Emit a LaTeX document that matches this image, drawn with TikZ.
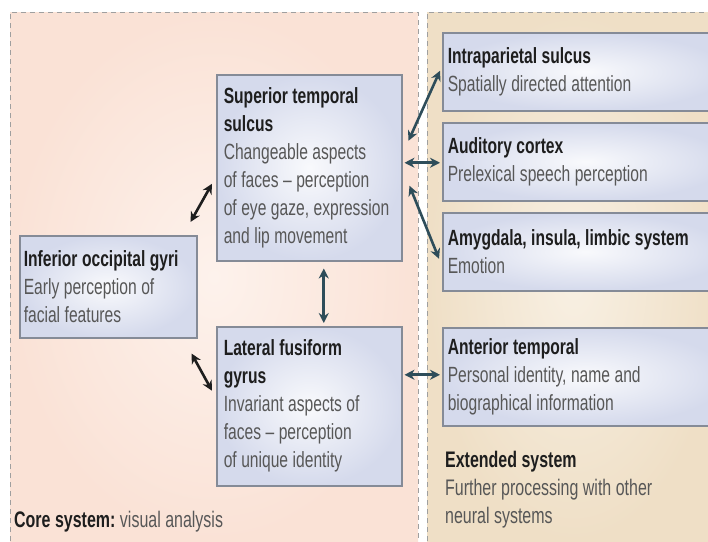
\documentclass[tikz,border=0pt]{standalone}
\usepackage{fontspec}
\setmainfont{Liberation Sans}[FakeStretch=0.71, WordSpace=0.75]
\usetikzlibrary{arrows.meta}
\hyphenpenalty=10000
\exhyphenpenalty=10000

\definecolor{corefill}{HTML}{FAE2D6}
\definecolor{corelight}{HTML}{FDF2EC}
\definecolor{extfill}{HTML}{EFDFC6}
\definecolor{extlight}{HTML}{F8F0E3}
\definecolor{boxfill}{HTML}{D5DAEC}
\definecolor{boxline}{HTML}{858B97}
\definecolor{bodytext}{HTML}{575757}
\definecolor{titletext}{HTML}{1E1E1E}
\definecolor{arrowcol}{HTML}{2E4D5A}

\newcommand{\tightspace}{\spaceskip=4.5pt plus 1pt minus 0pt\relax\xspaceskip=4.5pt\relax}
\newcommand{\body}[1]{{\color{bodytext}#1}}

\tikzset{
  area/.style={draw=boxline, line width=1.5pt, shading=radial,
    inner color=white!85!boxfill, outer color=boxfill, anchor=north west,
    inner xsep=7pt, inner ysep=0pt, text=titletext,
    font=\fontsize{22}{28}\selectfont, execute at begin node=\tightspace},
  caption/.style={inner sep=0pt, text=titletext,
    font=\fontsize{22.5}{28}\selectfont, execute at begin node=\tightspace},
  link/.style={{Stealth[length=10pt,width=10pt]}-{Stealth[length=10pt,width=10pt]},
    line width=2.6pt, arrowcol},
  panelline/.style={draw=gray!75, line width=1pt, dash pattern=on 5pt off 4pt}
}

\begin{document}
\begin{tikzpicture}[x=1pt,y=-1pt]
  \useasboundingbox (0,0) rectangle (708,541);
  \shade[inner color=corelight, outer color=corefill] (10,12) rectangle (418,541);
  \shade[inner color=extlight, outer color=extfill] (427,12) rectangle (720,541);
  \draw[panelline] (10,541) -- (10,12) -- (418,12) -- (418,541);
  \draw[panelline] (427,541) -- (427,12) -- (720,12);

  \node[area, minimum width=185, minimum height=186, text width=171] (sts) at (216,74)
    {\textbf{Superior temporal}\\\textbf{sulcus}\\\body{Changeable aspects}\\
     \body{of faces -- perception}\\\body{of eye gaze, expression}\\\body{and lip movement}};
  \node[area, minimum width=177, minimum height=102, text width=169, inner xsep=4pt] (iog) at (19,235)
    {\textbf{Inferior occipital gyri}\\\body{Early perception of}\\\body{facial features}};
  \node[area, minimum width=185, minimum height=159, text width=171] (lfg) at (216,326)
    {\textbf{Lateral fusiform}\\\textbf{gyrus}\\\body{Invariant aspects of}\\
     \body{faces -- perception}\\\body{of unique identity}};
  \node[area, minimum width=285, minimum height=78, text width=275, inner xsep=5pt] (ips) at (442,32)
    {\textbf{Intraparietal sulcus}\\\body{Spatially directed attention}};
  \node[area, minimum width=285, minimum height=78, text width=275, inner xsep=5pt] (aud) at (442,122)
    {\textbf{Auditory cortex}\\\body{Prelexical speech perception}};
  \node[area, minimum width=285, minimum height=78, text width=275, inner xsep=5pt] (amy) at (442,212)
    {\textbf{Amygdala, insula, limbic system}\\\body{Emotion}};
  \node[area, minimum width=285, minimum height=98, text width=275, inner xsep=5pt] (ant) at (442,327)
    {\textbf{Anterior temporal}\\\body{Personal identity, name and}\\\body{biographical information}};

  \node[caption, anchor=north west, align=left] (ext) at (445,451)
    {\textbf{Extended system}\\\body{Further processing with other}\\\body{neural systems}};
  \node[caption, anchor=west] (core) at (14,522)
    {\textbf{Core system:} \body{visual analysis}};

  \draw[link, titletext] ([shift={(-7,-13)}]iog.north east) -- ([shift={(-4,16)}]sts.west);
  \draw[link, titletext] ([shift={(-6,15)}]iog.south east) -- ([shift={(-4,-15.5)}]lfg.west);
  \draw[link] ([shift={(14.5,7)}]sts.south) -- ([shift={(14.5,-3)}]lfg.north);
  \draw[link] ([shift={(6,-27)}]sts.east) -- ([shift={(-2,-1)}]ips.west);
  \draw[link] ([shift={(2,-5)}]sts.east) -- ([shift={(-2,1)}]aud.west);
  \draw[link] ([shift={(7,18)}]sts.east) -- ([shift={(-3,7)}]amy.west);
  \draw[link] ([shift={(2,-31.5)}]lfg.east) -- ([shift={(-2,-2)}]ant.west);
\end{tikzpicture}
\end{document}
